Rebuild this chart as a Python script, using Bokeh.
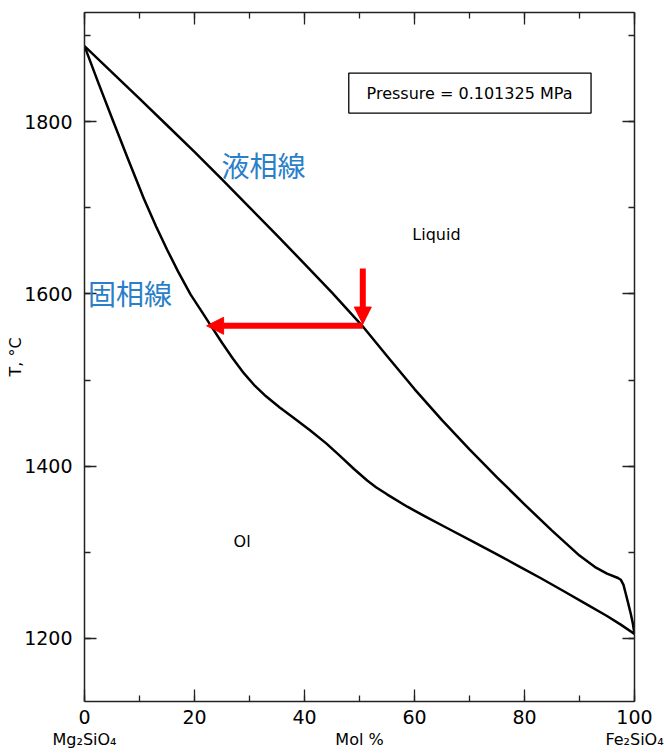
import math
from bokeh.plotting import figure
from bokeh.models import (LinearAxis, SingleIntervalTicker, FixedTicker, Range1d, Label,
                          Arrow, NormalHead, BoxAnnotation, CustomJSTickFormatter)
from bokeh.embed import file_html
from bokeh.resources import INLINE

# ---- data ----
liq_x = [0, 5, 10, 15, 20, 25, 30, 35, 40, 45, 50.5, 55, 60, 65, 70, 75, 80,
         85, 90, 93, 95, 97, 97.5, 98, 98.4, 98.8, 99.3, 99.7, 100]
liq_t = [1888, 1857.5, 1827, 1796, 1765, 1733, 1700.5, 1668, 1635, 1601.5, 1563,
         1528, 1489.5, 1453.5, 1419.5, 1387, 1355.5, 1325, 1296, 1282, 1275,
         1270, 1268, 1262, 1252, 1242, 1229, 1217, 1205]

sol_x = [0, 2.5, 5.2, 8, 10.8, 13, 15, 17, 19.3, 21, 23, 25, 27, 29, 31, 33,
         35.5, 38, 41, 44, 46.5, 49, 51.4, 53, 55, 58.7, 62, 66, 70.8, 75, 79,
         82.9, 87, 91, 95, 97.5, 100]
sol_t = [1888, 1845.5, 1801, 1755.4, 1710.6, 1678.7, 1651.7, 1626.3, 1599.2,
         1582.7, 1562.9, 1543.3, 1524.7, 1507.7, 1493.1, 1481.1, 1468.1, 1456.1,
         1441.7, 1426.1, 1411.6, 1396.6, 1383.2, 1375.5, 1367.2, 1352.8, 1341.4,
         1327.8, 1311.7, 1297.4, 1283.6, 1270, 1255.2, 1240.6, 1225.8, 1215.8, 1205]

x_ticks_interval = 20
y_ticks_interval = 200
bottom_label_pos = [0, 50, 100]
bottom_label_txt = ["Mg₂SiO₄", "Mol %", "Fe₂SiO₄"]
y_label = "T, °C"
pressure_text = "Pressure = 0.101325 MPa"
liquidus_jp = "液相線"
solidus_jp = "固相線"
region_liquid = "Liquid"
region_ol = "Ol"

# arrows: vertical onto liquidus, horizontal to solidus
arrow_v = dict(x0=50.6, y0=1629.5, x1=50.6, y1=1565)
arrow_h = dict(x0=50.6, y0=1563, x1=22.2, y1=1563)

AX = "#222222"
FONT = "DejaVu Sans"
BLUE = "#2a80c8"

p = figure(width=664, height=753, output_backend="svg", toolbar_location=None,
           x_range=Range1d(0, 100), y_range=Range1d(1126.5, 1927),
           min_border_left=84, min_border_right=30, min_border_top=12,
           min_border_bottom=52)
p.background_fill_color = "white"
p.border_fill_color = "white"
p.outline_line_color = None
p.xgrid.visible = False
p.ygrid.visible = False

def style_axis(ax, labels=True):
    ax.axis_line_color = AX
    ax.axis_line_width = 1.5
    ax.major_tick_line_color = AX
    ax.minor_tick_line_color = AX
    ax.major_tick_line_width = 1.3
    ax.minor_tick_line_width = 1.3
    ax.major_tick_in = 12
    ax.major_tick_out = 0
    ax.minor_tick_in = 6
    ax.minor_tick_out = 0
    if labels:
        ax.major_label_text_font = FONT
        ax.major_label_text_font_size = "19px"
        ax.major_label_text_color = "black"
    else:
        ax.formatter = CustomJSTickFormatter(code="return ''")
        ax.major_label_text_font_size = "6px"
        ax.major_label_standoff = 0

p.xaxis.ticker = SingleIntervalTicker(interval=x_ticks_interval, num_minor_ticks=2)
p.yaxis.ticker = SingleIntervalTicker(interval=y_ticks_interval, num_minor_ticks=2)
style_axis(p.xaxis[0])
style_axis(p.yaxis[0])
p.xaxis.major_label_standoff = 8
p.yaxis.major_label_standoff = 12
p.yaxis.axis_label = y_label
p.yaxis.axis_label_text_font = FONT
p.yaxis.axis_label_text_font_size = "16px"
p.yaxis.axis_label_text_font_style = "normal"
p.yaxis.axis_label_text_color = "black"
p.yaxis.axis_label_standoff = -4

# second bottom axis carrying the composition labels
bot2 = LinearAxis(ticker=FixedTicker(ticks=bottom_label_pos, minor_ticks=[]),
                  major_label_overrides={k: v for k, v in zip(bottom_label_pos, bottom_label_txt)})
bot2.axis_line_color = None
bot2.major_tick_line_color = None
bot2.major_tick_in = 0
bot2.major_tick_out = 0
bot2.minor_tick_line_color = None
bot2.major_label_standoff = 3
bot2.major_label_text_font = FONT
bot2.major_label_text_font_size = "16px"
bot2.major_label_text_color = "black"
p.add_layout(bot2, "below")

top = LinearAxis(ticker=SingleIntervalTicker(interval=x_ticks_interval, num_minor_ticks=2))
right = LinearAxis(ticker=SingleIntervalTicker(interval=y_ticks_interval, num_minor_ticks=2))
style_axis(top, labels=False)
style_axis(right, labels=False)
p.add_layout(top, "above")
p.add_layout(right, "right")

# curves
p.line(liq_x, liq_t, line_color="black", line_width=2.5, line_join="round")
p.line(sol_x, sol_t, line_color="black", line_width=2.5, line_join="round")

# arrows
for a in (arrow_v, arrow_h):
    p.add_layout(Arrow(end=NormalHead(size=17, fill_color="red", line_color="red"),
                       x_start=a["x0"], y_start=a["y0"], x_end=a["x1"], y_end=a["y1"],
                       line_color="red", line_width=6))

# pressure box
p.add_layout(BoxAnnotation(left=48.05, right=92.1, bottom=1810.1, top=1856.6,
                           fill_color="white", fill_alpha=1.0,
                           line_color="black", line_alpha=1.0, line_width=1.3))
p.add_layout(Label(x=70.0, y=1832.5, text=pressure_text, text_align="center",
                   text_baseline="alphabetic", text_font=FONT,
                   text_font_size="16px", text_color="black"))

# region labels
p.add_layout(Label(x=59.6, y=1669, text=region_liquid, text_align="left",
                   text_baseline="alphabetic", text_font=FONT,
                   text_font_size="16px", text_color="black"))
p.add_layout(Label(x=27.1, y=1312.5, text=region_ol, text_align="left",
                   text_baseline="alphabetic", text_font=FONT,
                   text_font_size="16px", text_color="black"))

# Japanese curve labels
p.add_layout(Label(x=24.9, y=1750, text=liquidus_jp, text_align="left",
                   text_baseline="middle", text_font="Noto Sans CJK JP",
                   text_font_size="28px", text_color=BLUE))
p.add_layout(Label(x=0.65, y=1601, text=solidus_jp, text_align="left",
                   text_baseline="middle", text_font="Noto Sans CJK JP",
                   text_font_size="28px", text_color=BLUE))

open("out.html", "w").write(file_html(p, INLINE))
